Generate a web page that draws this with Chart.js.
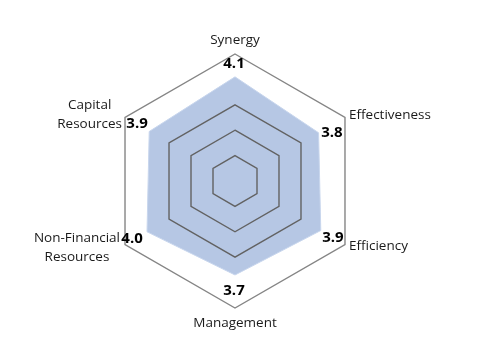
<!DOCTYPE html>
<html>
<head>
<meta charset="utf-8">
<script src="https://cdn.jsdelivr.net/npm/chart.js@4/dist/chart.umd.min.js"></script>
<style>
  html, body { margin: 0; padding: 0; background: #fff; }
  #wrap { width: 481px; height: 360px; position: relative; }
</style>
</head>
<body>
<div id="wrap"><canvas id="radar"></canvas></div>
<script>
// Chart data
const categories = ['Synergy', 'Effectiveness', 'Efficiency', 'Management', 'Non-Financial Resources', 'Capital Resources'];
const scores     = [4.1, 3.8, 3.9, 3.7, 4.0, 3.9];
const scaleMin   = 0;
const scaleMax   = 5;

/* label placement relative to the outer hexagon vertex:
   lines, block alignment, dx, dy (block centre) */
const CATEGORY_LAYOUT = [
    { lines: ['Synergy'],                    align: 'center', dx: 0,  dy: -14 },
    { lines: ['Effectiveness'],              align: 'left',   dx: 4,  dy: -2 },
    { lines: ['Efficiency'],                 align: 'left',   dx: 4,  dy: 2 },
    { lines: ['Management'],                 align: 'center', dx: 0,  dy: 15 },
    { lines: ['Non-Financial', 'Resources'], align: 'right',  dx: -5, dy: 3 },
    { lines: ['Capital', 'Resources'],       align: 'right',  dx: -3, dy: -3 },
];
const VALUE_OFFSETS = [
    { dx: -1,  dy: 10 },
    { dx: -13, dy: 15 },
    { dx: -12, dy: -7 },
    { dx: -1,  dy: -17 },
    { dx: 7,   dy: -6 },
    { dx: 12,  dy: 6 },
];

const LABEL_FONT = '13.5px "Open Sans", sans-serif';
const VALUE_FONT = 'bold 15px "Open Sans", sans-serif';

/* ──────────────────────────────────────────────────────────────
   Plugin: category names + value labels placed off the outer ring
   ────────────────────────────────────────────────────────────── */
const radarLabels = {
    id: 'radarLabels',
    afterDraw(chart) {
        const scale = chart.scales.r;
        const ctx = chart.ctx;
        const outer = scale.drawingArea;
        ctx.save();
        ctx.textBaseline = 'middle';

        // category names
        ctx.font = LABEL_FONT;
        ctx.fillStyle = '#1a1a1a';
        const lineH = 19;
        CATEGORY_LAYOUT.forEach((lay, i) => {
            const p = scale.getPointPosition(i, outer);
            const w = Math.max(...lay.lines.map(l => ctx.measureText(l).width));
            let cx = p.x + lay.dx;
            if (lay.align === 'left')  cx += w / 2;
            if (lay.align === 'right') cx -= w / 2;
            const top = p.y + lay.dy - (lay.lines.length - 1) * lineH / 2;
            ctx.textAlign = 'center';
            lay.lines.forEach((l, k) => ctx.fillText(l, cx, top + k * lineH));
        });

        // value labels
        ctx.font = VALUE_FONT;
        ctx.fillStyle = '#000';
        ctx.textAlign = 'center';
        scores.forEach((v, i) => {
            const p = scale.getPointPosition(i, outer);
            const o = VALUE_OFFSETS[i];
            ctx.fillText(v.toFixed(1), p.x + o.dx, p.y + o.dy);
        });
        ctx.restore();
    },
};

new Chart(document.getElementById('radar').getContext('2d'), {
    type: 'radar',
    data: {
        labels: categories,
        datasets: [{
            label: 'Score',
            data: scores,
            backgroundColor: 'rgb(182,199,228)',
            borderColor: 'rgba(200,214,237,1)',
            borderWidth: 1,
            pointRadius: 0,
            fill: true,
        }],
    },
    options: {
        responsive: true,
        maintainAspectRatio: false,
        animation: false,
        layout: { padding: { top: 54, bottom: 52, left: 0, right: 11 } },
        plugins: {
            legend: { display: false },
            tooltip: { enabled: false },
        },
        scales: {
            r: {
                min: scaleMin,
                max: scaleMax,
                angleLines: { display: false },
                grid: {
                    z: 1,
                    circular: false,
                    lineWidth: 1.4,
                    color: c => {
                        if (c.tick.value === 4) return 'rgba(0,0,0,0)';
                        return c.tick.value === scaleMax ? '#858585' : '#626262';
                    },
                },
                ticks: { display: false, stepSize: 1 },
                pointLabels: { display: false },
            },
        },
    },
    plugins: [radarLabels],
});
</script>
</body>
</html>
